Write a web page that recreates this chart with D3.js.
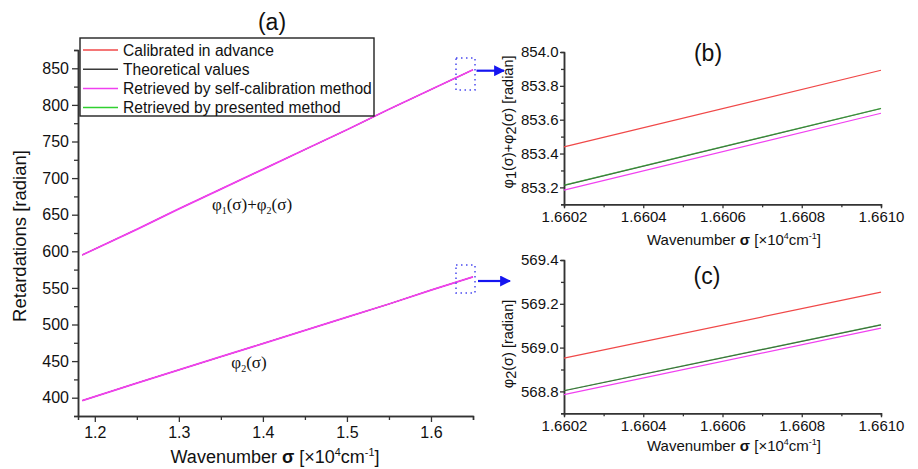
<!DOCTYPE html>
<html><head><meta charset="utf-8">
<script src="https://cdn.jsdelivr.net/npm/d3@7/dist/d3.min.js"></script>
<style>
body{margin:0;background:#fff;}
text{font-family:Arial,"Liberation Sans",sans-serif;fill:#111;}
.serif{font-family:"Times New Roman","Liberation Serif",serif;}
</style></head><body>
<svg id="c" width="918" height="469"></svg>
<script>
// ---------- data ----------
const seriesNames = ["Calibrated in advance","Theoretical values","Retrieved by self-calibration method","Retrieved by presented method"];
const seriesColors = ["#f04848","#3a3a3a","#f040f0","#30d030"];

// panel (a)
const sigmaA = [1.185, 1.25, 1.30, 1.35, 1.40, 1.45, 1.50, 1.55, 1.60, 1.65];
const sumA   = [595, 630, 658, 685, 712, 739, 766, 794, 821, 848];
const phi2A  = [396, 420, 438, 456, 474, 492, 510, 528, 547, 565];
const xTicksA = [1.2, 1.3, 1.4, 1.5, 1.6];
const yTicksA = [400, 450, 500, 550, 600, 650, 700, 750, 800, 850];

// panel (b): phi1+phi2 zoom
const sigmaZ = [1.6602, 1.6610];
const sumRed     = [853.439, 853.892];
const sumBlack   = [853.212, 853.666];
const sumGreen   = [853.213, 853.667];
const sumMagenta = [853.184, 853.638];
const xTicksZ = [1.6602, 1.6604, 1.6606, 1.6608, 1.6610];
const yTicksB = [853.2, 853.4, 853.6, 853.8, 854.0];

// panel (c): phi2 zoom
const p2Red     = [568.952, 569.253];
const p2Black   = [568.803, 569.104];
const p2Green   = [568.804, 569.105];
const p2Magenta = [568.785, 569.089];
const yTicksC = [568.8, 569.0, 569.2, 569.4];

// ---------- drawing ----------
const svg = d3.select("#c");
const axisColor = "#333";

function styleAxis(g){
  g.selectAll("path,line").attr("stroke",axisColor).attr("stroke-width",1.3);
  g.select(".domain").attr("stroke-width",1.5);
}

function minor(lo,hi,step,majors){
  const out=[];
  for(let v=lo; v<=hi+step*1e-6; v+=step){
    const r=+v.toFixed(6);
    if(!majors.some(m=>Math.abs(m-r)<step*1e-3)) out.push(r);
  }
  return out;
}

function panel(opt){
  const x=d3.scaleLinear().domain(opt.xd).range([opt.l,opt.r]);
  const y=d3.scaleLinear().domain(opt.yd).range([opt.b,opt.t]);
  svg.append("g").attr("transform",`translate(0,${opt.b})`)
    .call(d3.axisBottom(x).tickValues(opt.xMinor).tickSize(opt.minT).tickFormat(""))
    .call(styleAxis);
  svg.append("g").attr("transform",`translate(${opt.l},0)`)
    .call(d3.axisLeft(y).tickValues(opt.yMinor).tickSize(opt.minT).tickFormat(""))
    .call(styleAxis);
  const gx=svg.append("g").attr("transform",`translate(0,${opt.b})`)
    .call(d3.axisBottom(x).tickValues(opt.xt).tickSize(opt.majT).tickSizeOuter(0).tickPadding(opt.pad).tickFormat(opt.xf))
    .call(styleAxis);
  gx.selectAll("text").attr("font-size",opt.fs).attr("fill","#222").style("font-family",'Arial,"Liberation Sans",sans-serif');
  const gy=svg.append("g").attr("transform",`translate(${opt.l},0)`)
    .call(d3.axisLeft(y).tickValues(opt.yt).tickSize(opt.majT).tickSizeOuter(0).tickPadding(opt.ypad).tickFormat(opt.yf))
    .call(styleAxis);
  gy.selectAll("text").attr("font-size",opt.fs).attr("fill","#222").style("font-family",'Arial,"Liberation Sans",sans-serif');
  return {x,y};
}

// Panel (a)
const A = panel({l:78,r:473,t:50,b:416,xd:[1.18,1.65],yd:[375,875],
  xt:xTicksA,yt:yTicksA,xMinor:minor(1.2,1.65,0.05,xTicksA),yMinor:minor(375,875,25,yTicksA),
  xf:d3.format(".1f"),yf:d3.format("d"),fs:16,pad:5,ypad:3,majT:6,minT:4});
const lineA=d3.line().x(d=>A.x(d[0])).y(d=>A.y(d[1]));
[sumA,phi2A].forEach(vals=>{
  [1,3,0,2].forEach(i=>{
    svg.append("path").datum(sigmaA.map((s,j)=>[s,vals[j]]))
      .attr("d",lineA).attr("fill","none").attr("stroke",seriesColors[i])
      .attr("stroke-width",i===2?1.8:0.8);
  });
});

// Panel (b)
const B = panel({l:564,r:881,t:52,b:204.3,xd:[1.6602,1.6610],yd:[853.1,854.0],
  xt:xTicksZ,yt:yTicksB,xMinor:minor(1.6602,1.6610,0.0001,xTicksZ),yMinor:minor(853.1,854.0,0.1,yTicksB),
  xf:d3.format(".4f"),yf:d3.format(".1f"),fs:15,pad:3,ypad:1.5,majT:4,minT:3});
// Panel (c)
const C = panel({l:564,r:881,t:260,b:413.3,xd:[1.6602,1.6610],yd:[568.7,569.4],
  xt:xTicksZ,yt:yTicksC,xMinor:minor(1.6602,1.6610,0.0001,xTicksZ),yMinor:minor(568.7,569.4,0.1,yTicksC),
  xf:d3.format(".4f"),yf:d3.format(".1f"),fs:15,pad:3,ypad:1.5,majT:4,minT:3});

function drawZoom(P,sets){
  const ln=d3.line().x(d=>P.x(d[0])).y(d=>P.y(d[1]));
  sets.forEach(([vals,color,op])=>{
    svg.append("path").datum(sigmaZ.map((s,j)=>[s,vals[j]]))
      .attr("d",ln).attr("fill","none").attr("stroke",color).attr("stroke-width",1.2).attr("stroke-opacity",op);
  });
}
drawZoom(B,[[sumRed,seriesColors[0],1],[sumBlack,seriesColors[1],1],[sumGreen,seriesColors[3],0.55],[sumMagenta,seriesColors[2],1]]);
drawZoom(C,[[p2Red,seriesColors[0],1],[p2Black,seriesColors[1],1],[p2Green,seriesColors[3],0.45],[p2Magenta,seriesColors[2],1]]);

// Legend (panel a)
const leg=svg.append("g");
leg.append("rect").attr("x",80).attr("y",38).attr("width",294).attr("height",78)
  .attr("fill","#fff").attr("stroke","#222").attr("stroke-width",1.4);
seriesNames.forEach((n,i)=>{
  const yy=50+i*19.2;
  leg.append("line").attr("x1",83).attr("x2",118).attr("y1",yy).attr("y2",yy)
    .attr("stroke",seriesColors[i]).attr("stroke-width",1.5);
  leg.append("text").attr("x",123).attr("y",yy+5.5).attr("font-size",15.6).attr("fill","#222").text(n);
});

// Panel titles
svg.append("text").attr("x",272).attr("y",30).attr("text-anchor","middle").attr("font-size",23).text("(a)");
svg.append("text").attr("x",708).attr("y",61).attr("text-anchor","middle").attr("font-size",23).text("(b)");
svg.append("text").attr("x",707).attr("y",284).attr("text-anchor","middle").attr("font-size",23).text("(c)");

// Axis titles
svg.append("text").attr("transform","translate(26,236) rotate(-90)").attr("text-anchor","middle")
  .attr("font-size",18.5).attr("fill","#222").text("Retardations [radian]");

function waveTitle(xc,yb,fs){
  const t=svg.append("text").attr("x",xc).attr("y",yb).attr("text-anchor","middle").attr("font-size",fs).attr("fill","#222");
  t.append("tspan").text("Wavenumber ");
  t.append("tspan").attr("font-weight","bold").text("σ");
  t.append("tspan").text(" [×10");
  t.append("tspan").attr("dy",-fs*0.4).attr("font-size",fs*0.6).text("4");
  t.append("tspan").attr("dy",fs*0.4).text("cm");
  t.append("tspan").attr("dy",-fs*0.4).attr("font-size",fs*0.6).text("-1");
  t.append("tspan").attr("dy",fs*0.4).text("]");
}
waveTitle(275,463,18);
waveTitle(734,245,15);
waveTitle(734,451,15);

// panel (b) y title
{
  const t=svg.append("text").attr("transform","translate(513,122) rotate(-90)").attr("text-anchor","middle")
    .attr("font-size",14.5).attr("fill","#222");
  t.append("tspan").text("φ");
  t.append("tspan").attr("dy",3).text("1");
  t.append("tspan").attr("dy",-3).text("(σ)+φ");
  t.append("tspan").attr("dy",3).text("2");
  t.append("tspan").attr("dy",-3).text("(σ) [radian]");
}
// panel (c) y title
{
  const t=svg.append("text").attr("transform","translate(513,344) rotate(-90)").attr("text-anchor","middle")
    .attr("font-size",14.5).attr("fill","#222");
  t.append("tspan").text("φ");
  t.append("tspan").attr("dy",3).text("2");
  t.append("tspan").attr("dy",-3).text("(σ) [radian]");
}

// Curve annotations (serif)
function phiLabel(xc,yb,parts){
  const t=svg.append("text").attr("class","serif").attr("x",xc).attr("y",yb).attr("text-anchor","middle")
    .attr("font-size",17).attr("fill","#222");
  parts.forEach(p=>{
    if(p.sub) t.append("tspan").attr("font-size",10).attr("dy",4).text(p.sub);
    else t.append("tspan").attr("dy",p.after?-4:0).text(p.t);
  });
}
phiLabel(252,210,[{t:"φ"},{sub:"1"},{t:"(σ)+φ",after:true},{sub:"2"},{t:"(σ)",after:true}]);
phiLabel(249,368,[{t:"φ"},{sub:"2"},{t:"(σ)",after:true}]);

// dotted boxes and arrows
const defs=svg.append("defs");
defs.append("marker").attr("id","ah").attr("viewBox","0 0 10 10").attr("refX",9).attr("refY",5)
  .attr("markerWidth",5).attr("markerHeight",5).attr("orient","auto")
  .append("path").attr("d","M0,0L10,5L0,10z").attr("fill","#1515f0");
[[456,58,19,32,70.7,476.5,504],[456,265,19,28,281,478,510]].forEach(([bx,by,bw,bh,ay,ax1,ax2])=>{
  svg.append("rect").attr("x",bx).attr("y",by).attr("width",bw).attr("height",bh)
    .attr("fill","none").attr("stroke","#4a4af0").attr("stroke-width",1.5).attr("stroke-dasharray","1.5,3.5");
  svg.append("line").attr("x1",ax1).attr("x2",ax2).attr("y1",ay).attr("y2",ay)
    .attr("stroke","#1515f0").attr("stroke-width",2.2).attr("marker-end","url(#ah)");
});
</script>
</body></html>
